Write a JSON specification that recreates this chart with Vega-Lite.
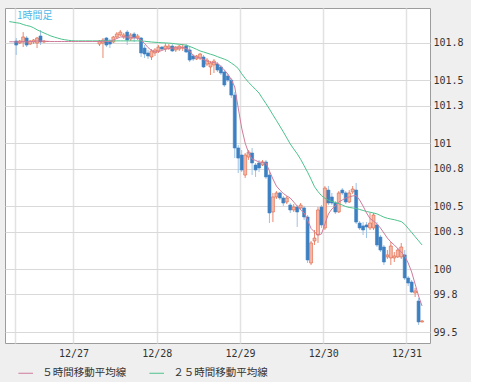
{
"$schema":"https://vega.github.io/schema/vega-lite/v6.json",
"width":425,"height":335,
"autosize":{"type":"none"},
"padding":{"left":5,"top":8,"right":41,"bottom":39},
"background":"#efefef",
"title":{"text":"1時間足","anchor":"start","frame":"group","orient":"top","offset":-13,"dx":12,"fontSize":10,"font":"Noto Sans CJK JP","fontWeight":"normal","color":"#4db8e8"},
"data":{"values":[
{"t":"2011-12-26T05:30","m5":101.806,"m25":101.966},
{"t":"2011-12-26T06:30","m5":101.806,"m25":101.962},
{"t":"2011-12-26T07:30","o":101.812,"h":101.836,"l":101.701,"c":101.78,"m5":101.804,"m25":101.957},
{"t":"2011-12-26T08:30","o":101.796,"h":101.82,"l":101.788,"c":101.812,"m5":101.804,"m25":101.953},
{"t":"2011-12-26T09:30","o":101.804,"h":101.883,"l":101.764,"c":101.844,"m5":101.808,"m25":101.943},
{"t":"2011-12-26T10:30","o":101.836,"h":101.852,"l":101.764,"c":101.78,"m5":101.804,"m25":101.935},
{"t":"2011-12-26T11:30","o":101.788,"h":101.82,"l":101.78,"c":101.812,"m5":101.808,"m25":101.929},
{"t":"2011-12-26T12:30","o":101.804,"h":101.828,"l":101.788,"c":101.82,"m5":101.808,"m25":101.917},
{"t":"2011-12-26T13:30","o":101.796,"h":101.844,"l":101.756,"c":101.836,"m5":101.812,"m25":101.901},
{"t":"2011-12-26T14:30","o":101.852,"h":101.899,"l":101.78,"c":101.804,"m5":101.812,"m25":101.888},
{"t":"2011-12-26T15:30","o":101.804,"h":101.82,"l":101.796,"c":101.812,"m5":101.81,"m25":101.876},
{"t":"2011-12-26T16:30","o":101.808,"h":101.812,"l":101.804,"c":101.808,"m5":101.81,"m25":101.864},
{"t":"2011-12-26T17:30","o":101.808,"h":101.808,"l":101.808,"c":101.808,"m5":101.808,"m25":101.852},
{"t":"2011-12-26T18:30","o":101.808,"h":101.808,"l":101.808,"c":101.808,"m5":101.808,"m25":101.843},
{"t":"2011-12-26T19:30","o":101.808,"h":101.808,"l":101.808,"c":101.808,"m5":101.808,"m25":101.835},
{"t":"2011-12-26T20:30","o":101.808,"h":101.808,"l":101.808,"c":101.808,"m5":101.808,"m25":101.827},
{"t":"2011-12-26T21:30","o":101.808,"h":101.808,"l":101.808,"c":101.808,"m5":101.808,"m25":101.822},
{"t":"2011-12-26T22:30","o":101.808,"h":101.808,"l":101.808,"c":101.808,"m5":101.808,"m25":101.818},
{"t":"2011-12-26T23:30","o":101.808,"h":101.808,"l":101.808,"c":101.808,"m5":101.808,"m25":101.814},
{"t":"2011-12-27T00:30","o":101.808,"h":101.808,"l":101.808,"c":101.808,"m5":101.808,"m25":101.813},
{"t":"2011-12-27T01:30","o":101.808,"h":101.808,"l":101.808,"c":101.808,"m5":101.808,"m25":101.813},
{"t":"2011-12-27T02:30","o":101.808,"h":101.808,"l":101.808,"c":101.808,"m5":101.808,"m25":101.813},
{"t":"2011-12-27T03:30","o":101.808,"h":101.808,"l":101.808,"c":101.808,"m5":101.808,"m25":101.813},
{"t":"2011-12-27T04:30","o":101.808,"h":101.808,"l":101.808,"c":101.808,"m5":101.808,"m25":101.813},
{"t":"2011-12-27T05:30","o":101.808,"h":101.808,"l":101.808,"c":101.808,"m5":101.808,"m25":101.813},
{"t":"2011-12-27T06:30","o":101.808,"h":101.808,"l":101.808,"c":101.808,"m5":101.808,"m25":101.813},
{"t":"2011-12-27T07:30","o":101.788,"h":101.82,"l":101.772,"c":101.812,"m5":101.808,"m25":101.813},
{"t":"2011-12-27T08:30","o":101.796,"h":101.836,"l":101.677,"c":101.82,"m5":101.81,"m25":101.813},
{"t":"2011-12-27T09:30","o":101.836,"h":101.844,"l":101.764,"c":101.78,"m5":101.808,"m25":101.813},
{"t":"2011-12-27T10:30","o":101.812,"h":101.828,"l":101.756,"c":101.788,"m5":101.808,"m25":101.813},
{"t":"2011-12-27T11:30","o":101.804,"h":101.852,"l":101.796,"c":101.844,"m5":101.82,"m25":101.813},
{"t":"2011-12-27T12:30","o":101.844,"h":101.883,"l":101.828,"c":101.868,"m5":101.832,"m25":101.813},
{"t":"2011-12-27T13:30","o":101.86,"h":101.899,"l":101.852,"c":101.883,"m5":101.844,"m25":101.813},
{"t":"2011-12-27T14:30","o":101.844,"h":101.876,"l":101.828,"c":101.86,"m5":101.845,"m25":101.813},
{"t":"2011-12-27T15:30","o":101.883,"h":101.899,"l":101.78,"c":101.82,"m5":101.844,"m25":101.813},
{"t":"2011-12-27T16:30","o":101.828,"h":101.876,"l":101.812,"c":101.86,"m5":101.841,"m25":101.813},
{"t":"2011-12-27T17:30","o":101.868,"h":101.883,"l":101.804,"c":101.836,"m5":101.839,"m25":101.813},
{"t":"2011-12-27T18:30","o":101.836,"h":101.868,"l":101.82,"c":101.852,"m5":101.834,"m25":101.813},
{"t":"2011-12-27T19:30","o":101.836,"h":101.844,"l":101.685,"c":101.717,"m5":101.82,"m25":101.812},
{"t":"2011-12-27T20:30","o":101.756,"h":101.78,"l":101.677,"c":101.709,"m5":101.792,"m25":101.81},
{"t":"2011-12-27T21:30","o":101.717,"h":101.741,"l":101.669,"c":101.693,"m5":101.76,"m25":101.807},
{"t":"2011-12-27T22:30","o":101.685,"h":101.748,"l":101.661,"c":101.733,"m5":101.737,"m25":101.804},
{"t":"2011-12-27T23:30","o":101.717,"h":101.756,"l":101.693,"c":101.741,"m5":101.725,"m25":101.802},
{"t":"2011-12-28T00:30","o":101.733,"h":101.78,"l":101.717,"c":101.764,"m5":101.727,"m25":101.8},
{"t":"2011-12-28T01:30","o":101.764,"h":101.772,"l":101.741,"c":101.748,"m5":101.737,"m25":101.798},
{"t":"2011-12-28T02:30","o":101.748,"h":101.796,"l":101.725,"c":101.772,"m5":101.748,"m25":101.797},
{"t":"2011-12-28T03:30","o":101.756,"h":101.788,"l":101.741,"c":101.772,"m5":101.752,"m25":101.795},
{"t":"2011-12-28T04:30","o":101.772,"h":101.788,"l":101.725,"c":101.733,"m5":101.756,"m25":101.793},
{"t":"2011-12-28T05:30","o":101.741,"h":101.772,"l":101.725,"c":101.764,"m5":101.756,"m25":101.789},
{"t":"2011-12-28T06:30","o":101.748,"h":101.78,"l":101.733,"c":101.772,"m5":101.758,"m25":101.786},
{"t":"2011-12-28T07:30","o":101.756,"h":101.788,"l":101.733,"c":101.764,"m5":101.759,"m25":101.783},
{"t":"2011-12-28T08:30","o":101.772,"h":101.788,"l":101.717,"c":101.725,"m5":101.752,"m25":101.779},
{"t":"2011-12-28T09:30","o":101.741,"h":101.772,"l":101.645,"c":101.661,"m5":101.733,"m25":101.769},
{"t":"2011-12-28T10:30","o":101.693,"h":101.709,"l":101.653,"c":101.669,"m5":101.697,"m25":101.758},
{"t":"2011-12-28T11:30","o":101.669,"h":101.701,"l":101.661,"c":101.693,"m5":101.683,"m25":101.746},
{"t":"2011-12-28T12:30","o":101.677,"h":101.717,"l":101.661,"c":101.709,"m5":101.677,"m25":101.733},
{"t":"2011-12-28T13:30","o":101.685,"h":101.701,"l":101.598,"c":101.606,"m5":101.665,"m25":101.725},
{"t":"2011-12-28T14:30","o":101.629,"h":101.677,"l":101.614,"c":101.661,"m5":101.652,"m25":101.716},
{"t":"2011-12-28T15:30","o":101.606,"h":101.653,"l":101.542,"c":101.637,"m5":101.645,"m25":101.707},
{"t":"2011-12-28T16:30","o":101.622,"h":101.669,"l":101.558,"c":101.653,"m5":101.641,"m25":101.699},
{"t":"2011-12-28T17:30","o":101.629,"h":101.645,"l":101.566,"c":101.582,"m5":101.635,"m25":101.688},
{"t":"2011-12-28T18:30","o":101.606,"h":101.622,"l":101.542,"c":101.558,"m5":101.61,"m25":101.678},
{"t":"2011-12-28T19:30","o":101.566,"h":101.582,"l":101.447,"c":101.463,"m5":101.582,"m25":101.668},
{"t":"2011-12-28T20:30","o":101.534,"h":101.55,"l":101.487,"c":101.502,"m5":101.55,"m25":101.656},
{"t":"2011-12-28T21:30","o":101.502,"h":101.518,"l":101.36,"c":101.383,"m5":101.506,"m25":101.637},
{"t":"2011-12-28T22:30","o":101.383,"h":101.407,"l":100.883,"c":100.963,"m5":101.447,"m25":101.618},
{"t":"2011-12-28T23:30","o":100.963,"h":100.987,"l":100.764,"c":100.883,"m5":101.28,"m25":101.594},
{"t":"2011-12-29T00:30","o":100.907,"h":100.947,"l":100.772,"c":100.788,"m5":101.121,"m25":101.552},
{"t":"2011-12-29T01:30","o":100.748,"h":100.923,"l":100.725,"c":100.907,"m5":101.002,"m25":101.516},
{"t":"2011-12-29T02:30","o":100.891,"h":100.947,"l":100.868,"c":100.931,"m5":100.923,"m25":101.483},
{"t":"2011-12-29T03:30","o":100.923,"h":100.963,"l":100.748,"c":100.844,"m5":100.875,"m25":101.456},
{"t":"2011-12-29T04:30","o":100.828,"h":100.844,"l":100.733,"c":100.788,"m5":100.864,"m25":101.427},
{"t":"2011-12-29T05:30","o":100.844,"h":100.868,"l":100.772,"c":100.804,"m5":100.852,"m25":101.399},
{"t":"2011-12-29T06:30","o":100.828,"h":100.868,"l":100.82,"c":100.852,"m5":100.848,"m25":101.356},
{"t":"2011-12-29T07:30","o":100.852,"h":100.868,"l":100.717,"c":100.733,"m5":100.844,"m25":101.315},
{"t":"2011-12-29T08:30","o":100.748,"h":100.772,"l":100.367,"c":100.447,"m5":100.78,"m25":101.272},
{"t":"2011-12-29T09:30","o":100.455,"h":100.606,"l":100.375,"c":100.574,"m5":100.717,"m25":101.226},
{"t":"2011-12-29T10:30","o":100.574,"h":100.621,"l":100.558,"c":100.606,"m5":100.661,"m25":101.182},
{"t":"2011-12-29T11:30","o":100.606,"h":100.614,"l":100.55,"c":100.566,"m5":100.629,"m25":101.137},
{"t":"2011-12-29T12:30","o":100.566,"h":100.582,"l":100.502,"c":100.526,"m5":100.602,"m25":101.091},
{"t":"2011-12-29T13:30","o":100.534,"h":100.582,"l":100.518,"c":100.566,"m5":100.582,"m25":101.043},
{"t":"2011-12-29T14:30","o":100.51,"h":100.526,"l":100.447,"c":100.471,"m5":100.566,"m25":100.995},
{"t":"2011-12-29T15:30","o":100.471,"h":100.518,"l":100.455,"c":100.494,"m5":100.534,"m25":100.955},
{"t":"2011-12-29T16:30","o":100.494,"h":100.51,"l":100.336,"c":100.455,"m5":100.502,"m25":100.917},
{"t":"2011-12-29T17:30","o":100.487,"h":100.526,"l":100.471,"c":100.51,"m5":100.471,"m25":100.873},
{"t":"2011-12-29T18:30","o":100.487,"h":100.502,"l":100.391,"c":100.415,"m5":100.447,"m25":100.822},
{"t":"2011-12-29T19:30","o":100.415,"h":100.431,"l":100.05,"c":100.074,"m5":100.391,"m25":100.771},
{"t":"2011-12-29T20:30","o":100.05,"h":100.225,"l":100.034,"c":100.209,"m5":100.324,"m25":100.715},
{"t":"2011-12-29T21:30","o":100.225,"h":100.312,"l":100.193,"c":100.248,"m5":100.296,"m25":100.655},
{"t":"2011-12-29T22:30","o":100.272,"h":100.494,"l":100.209,"c":100.471,"m5":100.272,"m25":100.617},
{"t":"2011-12-29T23:30","o":100.494,"h":100.51,"l":100.328,"c":100.352,"m5":100.28,"m25":100.585},
{"t":"2011-12-30T00:30","o":100.328,"h":100.661,"l":100.312,"c":100.645,"m5":100.359,"m25":100.564},
{"t":"2011-12-30T01:30","o":100.629,"h":100.661,"l":100.51,"c":100.526,"m5":100.439,"m25":100.548},
{"t":"2011-12-30T02:30","o":100.574,"h":100.606,"l":100.51,"c":100.526,"m5":100.479,"m25":100.539},
{"t":"2011-12-30T03:30","o":100.526,"h":100.542,"l":100.439,"c":100.455,"m5":100.502,"m25":100.53},
{"t":"2011-12-30T04:30","o":100.455,"h":100.621,"l":100.447,"c":100.606,"m5":100.534,"m25":100.521},
{"t":"2011-12-30T05:30","o":100.629,"h":100.645,"l":100.59,"c":100.606,"m5":100.55,"m25":100.51},
{"t":"2011-12-30T06:30","o":100.606,"h":100.621,"l":100.518,"c":100.534,"m5":100.566,"m25":100.498},
{"t":"2011-12-30T07:30","o":100.534,"h":100.629,"l":100.526,"c":100.606,"m5":100.574,"m25":100.491},
{"t":"2011-12-30T08:30","o":100.614,"h":100.661,"l":100.598,"c":100.637,"m5":100.582,"m25":100.487},
{"t":"2011-12-30T09:30","o":100.629,"h":100.685,"l":100.359,"c":100.375,"m5":100.586,"m25":100.483},
{"t":"2011-12-30T10:30","o":100.367,"h":100.383,"l":100.312,"c":100.328,"m5":100.55,"m25":100.475},
{"t":"2011-12-30T11:30","o":100.344,"h":100.375,"l":100.272,"c":100.312,"m5":100.502,"m25":100.467},
{"t":"2011-12-30T12:30","o":100.352,"h":100.375,"l":100.248,"c":100.336,"m5":100.447,"m25":100.459},
{"t":"2011-12-30T13:30","o":100.328,"h":100.447,"l":100.312,"c":100.367,"m5":100.403,"m25":100.453},
{"t":"2011-12-30T14:30","o":100.328,"h":100.447,"l":100.312,"c":100.431,"m5":100.383,"m25":100.447},
{"t":"2011-12-30T15:30","o":100.352,"h":100.375,"l":100.177,"c":100.193,"m5":100.359,"m25":100.44},
{"t":"2011-12-30T16:30","o":100.256,"h":100.272,"l":100.137,"c":100.153,"m5":100.328,"m25":100.427},
{"t":"2011-12-30T17:30","o":100.177,"h":100.193,"l":100.034,"c":100.058,"m5":100.288,"m25":100.414},
{"t":"2011-12-30T18:30","o":100.098,"h":100.153,"l":100.082,"c":100.114,"m5":100.248,"m25":100.405},
{"t":"2011-12-30T19:30","o":100.09,"h":100.217,"l":100.034,"c":100.185,"m5":100.217,"m25":100.399},
{"t":"2011-12-30T20:30","o":100.09,"h":100.137,"l":100.058,"c":100.106,"m5":100.193,"m25":100.394},
{"t":"2011-12-30T21:30","o":100.098,"h":100.169,"l":100.09,"c":100.153,"m5":100.165,"m25":100.386},
{"t":"2011-12-30T22:30","o":100.098,"h":100.209,"l":100.082,"c":100.177,"m5":100.137,"m25":100.379},
{"t":"2011-12-30T23:30","o":100.114,"h":100.153,"l":99.915,"c":99.931,"m5":100.106,"m25":100.357},
{"t":"2011-12-31T00:30","o":99.931,"h":99.947,"l":99.867,"c":99.891,"m5":100.05,"m25":100.325},
{"t":"2011-12-31T01:30","o":99.899,"h":99.915,"l":99.812,"c":99.82,"m5":99.979,"m25":100.292},
{"t":"2011-12-31T02:30","o":99.812,"h":99.852,"l":99.78,"c":99.828,"m5":99.883,"m25":100.259},
{"t":"2011-12-31T03:30","o":99.748,"h":99.772,"l":99.558,"c":99.582,"m5":99.788,"m25":100.226},
{"t":"2011-12-31T04:30","o":99.582,"h":99.598,"l":99.578,"c":99.59,"m5":99.709,"m25":100.193}
]},
"encoding":{
"x":{"field":"t","type":"temporal",
"scale":{"domain":[{"year":2011,"month":12,"date":26,"hours":5,"minutes":42},{"year":2011,"month":12,"date":31,"hours":5,"minutes":21}]},
"axis":{"orient":"bottom","values":[{"year":2011,"month":12,"date":26,"hours":7},{"year":2011,"month":12,"date":27},{"year":2011,"month":12,"date":28},{"year":2011,"month":12,"date":29},{"year":2011,"month":12,"date":30},{"year":2011,"month":12,"date":31}],
"format":"%m/%d","labelExpr":"hours(datum.value) == 0 ? datum.label : ''","grid":true,"gridColor":"#e2e2e2","gridWidth":1.5,"labelPadding":5,"title":null,"ticks":false,"domain":false,"labelFlush":false,"labelOverlap":false}}
},
"layer":[
{"transform":[{"filter":"datum.h > datum.l"}],
 "mark":{"type":"rule","strokeWidth":1},
 "encoding":{
  "y":{"field":"l","type":"quantitative","scale":{"domain":[99.415,102.074],"nice":false,"zero":false},
   "axis":{"orient":"right","values":[99.5,99.8,100,100.3,100.5,100.8,101,101.3,101.5,101.8],"labelExpr":"'' + datum.value","grid":true,"gridColor":"#d9d9d9","gridWidth":1,"labelPadding":3,"labelAlign":"left","labelBaseline":"middle","title":null,"ticks":false,"domain":false}},
  "y2":{"field":"h"},
  "stroke":{"condition":{"test":"datum.c >= datum.o","value":"#e98a70"},"value":"#9dc3e6"}}},
{"transform":[{"filter":"datum.h > datum.l"}],
 "mark":{"type":"bar","size":3,"strokeWidth":0.6},
 "encoding":{
  "y":{"field":"o","type":"quantitative","scale":{"domain":[99.415,102.074],"nice":false,"zero":false},
   "axis":{"orient":"right","values":[99.5,99.8,100,100.3,100.5,100.8,101,101.3,101.5,101.8],"labelExpr":"'' + datum.value","grid":true,"gridColor":"#d9d9d9","gridWidth":1,"labelPadding":3,"labelAlign":"left","labelBaseline":"middle","title":null,"ticks":false,"domain":false}},
  "y2":{"field":"c"},
  "fill":{"condition":{"test":"datum.c >= datum.o","value":"#f5b7a6"},"value":"#3d80c2"},
  "stroke":{"condition":{"test":"datum.c >= datum.o","value":"#e0623f"},"value":"#3d80c2"}}},
{"mark":{"type":"line","strokeWidth":1,"clip":true},
 "encoding":{
  "y":{"field":"m25","type":"quantitative","scale":{"domain":[99.415,102.074],"nice":false,"zero":false},
   "axis":{"orient":"right","values":[99.5,99.8,100,100.3,100.5,100.8,101,101.3,101.5,101.8],"labelExpr":"'' + datum.value","grid":true,"gridColor":"#d9d9d9","gridWidth":1,"labelPadding":3,"labelAlign":"left","labelBaseline":"middle","title":null,"ticks":false,"domain":false}},
  "color":{"datum":"２５時間移動平均線","scale":{"domain":["５時間移動平均線","２５時間移動平均線"],"range":["#cf7b9c","#4cc28c"]},
   "legend":{"orient":"none","legendX":12.7,"legendY":357,"direction":"horizontal","title":null,"symbolType":"stroke","symbolSize":213,"symbolStrokeWidth":1,"labelFont":"Noto Sans CJK JP","labelFontSize":10.5,"labelColor":"#333333","labelOffset":8.5,"columnPadding":20,"padding":0,"labelLimit":300}}}},
{"mark":{"type":"line","strokeWidth":1,"clip":true},
 "encoding":{
  "y":{"field":"m5","type":"quantitative","scale":{"domain":[99.415,102.074],"nice":false,"zero":false},
   "axis":{"orient":"right","values":[99.5,99.8,100,100.3,100.5,100.8,101,101.3,101.5,101.8],"labelExpr":"'' + datum.value","grid":true,"gridColor":"#d9d9d9","gridWidth":1,"labelPadding":3,"labelAlign":"left","labelBaseline":"middle","title":null,"ticks":false,"domain":false}},
  "color":{"datum":"５時間移動平均線","scale":{"domain":["５時間移動平均線","２５時間移動平均線"],"range":["#cf7b9c","#4cc28c"]},
   "legend":{"orient":"none","legendX":12.7,"legendY":357,"direction":"horizontal","title":null,"symbolType":"stroke","symbolSize":213,"symbolStrokeWidth":1,"labelFont":"Noto Sans CJK JP","labelFontSize":10.5,"labelColor":"#333333","labelOffset":8.5,"columnPadding":20,"padding":0,"labelLimit":300}}}}
],
"config":{
 "view":{"fill":"white","stroke":"#9c9c9c","strokeWidth":1},
 "axis":{"labelFont":"DejaVu Sans Mono","labelFontSize":10,"labelColor":"#333333","title":null}
}
}
